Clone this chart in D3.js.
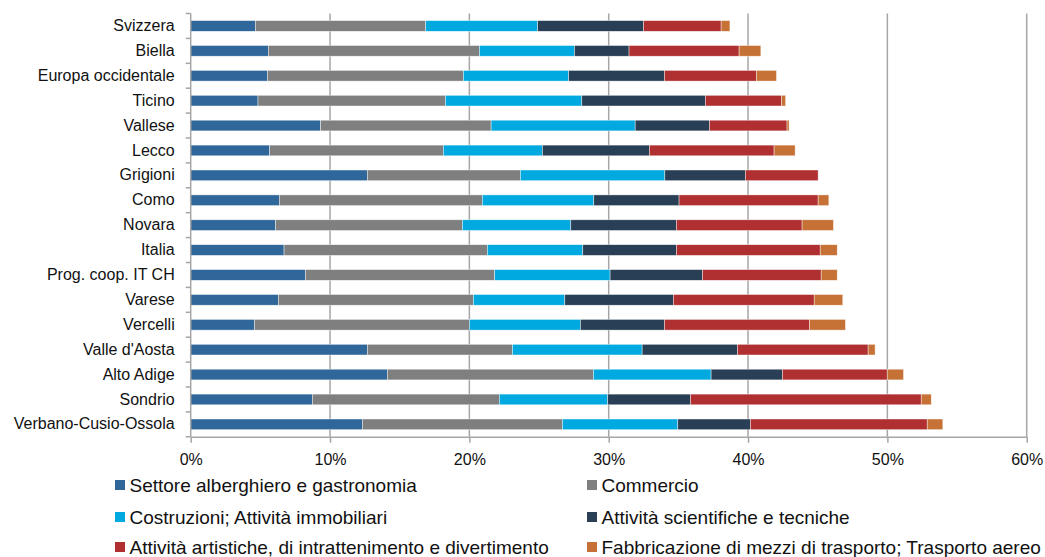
<!DOCTYPE html>
<html>
<head>
<meta charset="utf-8">
<script src="https://cdn.jsdelivr.net/npm/d3@7"></script>
<style>
  html, body { margin: 0; padding: 0; background: #fff; }
  svg { display: block; font-family: "Liberation Sans", Arial, sans-serif; }
</style>
</head>
<body>
<svg id="chart" width="1045" height="557"></svg>
<script>
// Territori, dall'alto verso il basso
const categories = [
  "Svizzera", "Biella", "Europa occidentale", "Ticino", "Vallese", "Lecco",
  "Grigioni", "Como", "Novara", "Italia", "Prog. coop. IT CH", "Varese",
  "Vercelli", "Valle d'Aosta", "Alto Adige", "Sondrio", "Verbano-Cusio-Ossola"
];

// Nomi dei settori (ordine di impilamento)
const seriesNames = [
  "Settore alberghiero e gastronomia",
  "Commercio",
  "Costruzioni; Attività immobiliari",
  "Attività scientifiche e tecniche",
  "Attività artistiche, di intrattenimento e divertimento",
  "Fabbricazione di mezzi di trasporto; Trasporto aereo"
];

// Quote percentuali per settore, nello stesso ordine delle categorie
const alberghiero  = [4.64, 5.57, 5.50, 4.83, 9.33, 5.67, 12.68, 6.36, 6.10, 6.70, 8.23, 6.29, 4.57, 12.68, 14.11, 8.73, 12.32];
const commercio    = [12.23, 15.15, 14.07, 13.45, 12.23, 12.46, 10.98, 14.57, 13.40, 14.59, 13.59, 14.00, 15.43, 10.41, 14.79, 13.42, 14.36];
const costruzioni  = [8.03, 6.82, 7.56, 9.79, 10.34, 7.11, 10.37, 8.00, 7.78, 6.85, 8.28, 6.56, 7.97, 9.31, 8.45, 7.78, 8.28];
const scientifiche = [7.60, 3.92, 6.87, 8.87, 5.33, 7.68, 5.78, 6.12, 7.58, 6.72, 6.63, 7.79, 6.03, 6.84, 5.12, 5.94, 5.21];
const artistiche   = [5.57, 7.90, 6.60, 5.46, 5.57, 8.95, 5.22, 9.98, 9.02, 10.32, 8.52, 10.11, 10.41, 9.38, 7.52, 16.56, 12.69];
const trasporto    = [0.63, 1.56, 1.44, 0.30, 0.15, 1.51, 0.00, 0.77, 2.25, 1.22, 1.15, 2.05, 2.58, 0.50, 1.17, 0.72, 1.12];

// Etichette dell'asse orizzontale
const xTicks = [0, 10, 20, 30, 40, 50, 60];
const xTickLabels = ["0%", "10%", "20%", "30%", "40%", "50%", "60%"];

const colors = ["#30679A", "#7F7F7F", "#00A9E0", "#293F55", "#B03032", "#C67236"];

const seriesValues = [alberghiero, commercio, costruzioni, scientifiche, artistiche, trasporto];

// Tabella per d3.stack
const rows = categories.map((c, i) => {
  const r = { category: c };
  seriesNames.forEach((s, k) => { r[s] = seriesValues[k][i]; });
  return r;
});
const stacked = d3.stack().keys(seriesNames)(rows);

const svg = d3.select("#chart");

const plot = { left: 190.7, right: 1026.7, top: 13.5, bottom: 436.8 };

const x = d3.scaleLinear().domain([0, 60]).range([plot.left, plot.right]);
const y = d3.scaleBand()
  .domain(categories)
  .range([plot.top, plot.bottom])
  .paddingInner(0.57)
  .paddingOuter(0.285);

const gridColor = "#A6A6A6";

// Griglia verticale
svg.append("g")
  .selectAll("line")
  .data(xTicks.slice(1))
  .join("line")
  .attr("x1", d => x(d)).attr("x2", d => x(d))
  .attr("y1", plot.top).attr("y2", plot.bottom)
  .attr("stroke", gridColor)
  .attr("stroke-width", 1.5);

// Barre impilate
svg.append("g")
  .selectAll("g")
  .data(stacked)
  .join("g")
  .attr("fill", (d, i) => colors[i])
  .selectAll("rect")
  .data(d => d)
  .join("rect")
  .attr("x", d => x(d[0]))
  .attr("y", d => y(d.data.category))
  .attr("width", d => Math.max(0, x(d[1]) - x(d[0])))
  .attr("height", y.bandwidth())
  .attr("stroke", "#ffffff")
  .attr("stroke-opacity", 0.7)
  .attr("stroke-width", 0.6);

// Asse verticale (categorie)
const yAxis = svg.append("g")
  .attr("transform", `translate(${plot.left},0)`)
  .call(d3.axisLeft(y).tickSize(0).tickPadding(16));
yAxis.select(".domain").remove();
yAxis.selectAll("text")
  .attr("font-size", 16)
  .attr("fill", "#111")
  .attr("font-family", "'Liberation Sans', Arial, sans-serif");

// Trattini tra le categorie
const bounds = d3.range(categories.length + 1).map(i => plot.top + i * y.step());
svg.append("g")
  .selectAll("line")
  .data(bounds)
  .join("line")
  .attr("x1", plot.left - 5).attr("x2", plot.left)
  .attr("y1", d => d).attr("y2", d => d)
  .attr("stroke", gridColor)
  .attr("stroke-width", 1.5);

svg.append("line")
  .attr("x1", plot.left).attr("x2", plot.left)
  .attr("y1", plot.top).attr("y2", plot.bottom)
  .attr("stroke", gridColor)
  .attr("stroke-width", 1.5);

// Asse orizzontale
const xAxis = svg.append("g")
  .attr("transform", `translate(0,${plot.bottom})`)
  .call(d3.axisBottom(x)
    .tickValues(xTicks)
    .tickFormat((d, i) => xTickLabels[i])
    .tickSize(6)
    .tickSizeOuter(0)
    .tickPadding(11));
xAxis.select(".domain").attr("stroke", gridColor).attr("stroke-width", 1.5);
xAxis.selectAll(".tick line").attr("stroke", gridColor).attr("stroke-width", 1.5);
xAxis.selectAll("text")
  .attr("font-size", 16)
  .attr("fill", "#111")
  .attr("font-family", "'Liberation Sans', Arial, sans-serif");

// Legenda su due colonne
const legendCols = [115, 587];
const legendRows = [480, 512, 542];
const legend = svg.append("g")
  .selectAll("g")
  .data(seriesNames)
  .join("g")
  .attr("transform", (d, i) => `translate(${legendCols[i % 2]},${legendRows[Math.floor(i / 2)]})`);
legend.append("rect")
  .attr("width", 10).attr("height", 10)
  .attr("fill", (d, i) => colors[i]);
legend.append("text")
  .attr("x", 14.5)
  .attr("y", 11.5)
  .attr("font-size", 19)
  .attr("fill", "#111")
  .text(d => d);
</script>
</body>
</html>
